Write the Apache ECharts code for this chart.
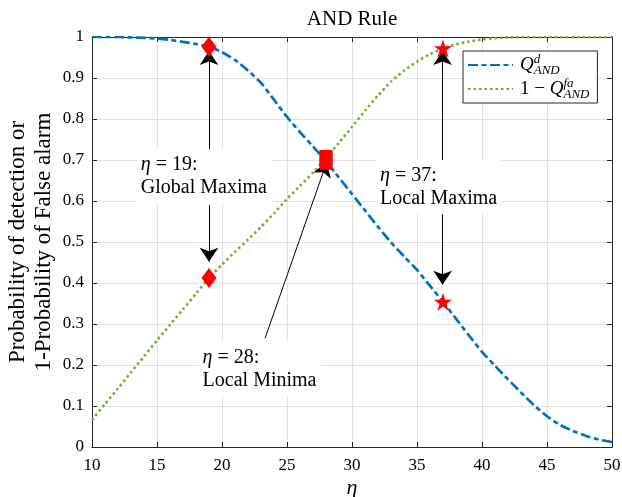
<!DOCTYPE html>
<html><head><meta charset="utf-8">
<script src="https://cdn.jsdelivr.net/npm/echarts@6/dist/echarts.min.js"></script>
<style>html,body{margin:0;padding:0;background:#fff}#c{width:622px;height:497px}</style>
</head><body><div id="c"></div>
<script>
// ---- data ----
const eta = [10,11,12,13,14,15,16,17,18,19,20,21,22,23,24,25,26,27,28,29,30,31,32,33,34,35,36,37,38,39,40,41,42,43,44,45,46,47,48,49,50];
const qdAnd = [1.000,1.000,1.000,0.999,0.998,0.996,0.993,0.988,0.983,0.976,0.963,0.944,0.918,0.888,0.847,0.805,0.768,0.733,0.697,0.657,0.617,0.577,0.537,0.499,0.465,0.432,0.393,0.354,0.313,0.272,0.232,0.198,0.165,0.133,0.102,0.075,0.054,0.039,0.027,0.018,0.012];
const oneMinusQfaAnd = [0.066,0.105,0.143,0.182,0.221,0.260,0.298,0.336,0.374,0.412,0.445,0.476,0.506,0.537,0.570,0.605,0.637,0.669,0.704,0.742,0.781,0.820,0.857,0.891,0.918,0.940,0.958,0.972,0.982,0.989,0.994,0.997,0.999,1.000,1.000,1.000,1.000,1.000,1.000,1.000,1.000];
const xTicks = [10,15,20,25,30,35,40,45,50];
const yTicks = [0,0.1,0.2,0.3,0.4,0.5,0.6,0.7,0.8,0.9,1];
const seriesNames = ['Qd_AND', '1-Qfa_AND'];
const globalMaxEta = 19, localMinEta = 28, localMaxEta = 37;
// annotation texts and their anchor (top-left) in data units
const annoTexts = ['{i|η} = 19:\nGlobal Maxima', '{i|η} = 28:\nLocal Minima', '{i|η} = 37:\nLocal Maxima'];
const annoAnchors = [[13.45, 0.726], [18.2, 0.256], [31.85, 0.700]];
// arrows: [from, to] in data units
const arrows = [
  [[19, 0.722], [19, 0.966]],
  [[19, 0.590], [19, 0.452]],
  [[23.31, 0.265], [28.05, 0.694]],
  [[36.97, 0.696], [36.97, 0.966]],
  [[36.97, 0.574], [36.97, 0.396]]
];

const FONT = '"Liberation Serif", "Times New Roman", serif';
const AX = '#262626';
const pairs = ys => eta.map((x, i) => [x, ys[i]]);
const at = (ys, e) => ys[eta.indexOf(e)];
const starPath = 'path://M50,0 L61.2,34.5 L97.6,34.5 L68.2,55.9 L79.4,90.5 L50,69.1 L20.6,90.5 L31.8,55.9 L2.4,34.5 L38.8,34.5 Z';

const chart = echarts.init(document.getElementById('c'));
const axisCommon = {
  type: 'value',
  axisLine: {show: true, onZero: false, lineStyle: {color: AX, width: 1}},
  axisTick: {show: true, inside: true, length: 5, lineStyle: {color: AX, width: 1}},
};
const option = {
  animation: false,
  backgroundColor: '#fff',
  title: {text: 'AND Rule', left: 352, top: 9, textAlign: 'center', padding: 0,
    textStyle: {fontFamily: FONT, fontWeight: 'normal', fontSize: 21, color: '#000'}},
  grid: {left: 92, right: 10, top: 37, bottom: 50, outerBoundsMode: 'none', containLabel: false},
  legend: {
    orient: 'vertical', left: 463, top: 51, padding: [2, 8, 2, 4], itemGap: 0,
    itemWidth: 45, itemHeight: 14, backgroundColor: '#fff', borderColor: AX, borderWidth: 1, borderRadius: 0,
    data: seriesNames,
    itemStyle: {color: 'rgba(0,0,0,0)', borderWidth: 0, opacity: 0},
    formatter: n => n === seriesNames[0] ? '{q|Q}{sup|d}{sub|AND}' : '{n|1 − }{q|Q}{sup|fa}{sub|AND}',
    textStyle: {fontFamily: FONT, color: '#000', fontSize: 17, padding: [0, 0, 0, 2],
      rich: {
        q: {fontFamily: FONT, fontStyle: 'italic', fontSize: 19, lineHeight: 24, color: '#000'},
        n: {fontFamily: FONT, fontSize: 19, lineHeight: 24, color: '#000'},
        sup: {fontFamily: FONT, fontStyle: 'italic', fontSize: 13, lineHeight: 12, verticalAlign: 'top', width: 0, color: '#000'},
        sub: {fontFamily: FONT, fontStyle: 'italic', fontSize: 13, lineHeight: 12, verticalAlign: 'bottom', color: '#000'}
      }}
  },
  xAxis: [
    Object.assign({}, axisCommon, {min: xTicks[0], max: xTicks[xTicks.length - 1], interval: xTicks[1] - xTicks[0],
      name: 'η', nameLocation: 'middle', nameGap: 30, nameMoveOverlap: false,
      nameTextStyle: {fontFamily: FONT, fontStyle: 'italic', fontSize: 22, color: '#000'},
      axisLabel: {fontFamily: FONT, fontSize: 17, color: '#000', margin: 10},
      splitLine: {show: true, lineStyle: {color: '#e2e2e2', width: 1}}}),
    Object.assign({}, axisCommon, {position: 'top', min: xTicks[0], max: xTicks[xTicks.length - 1], interval: xTicks[1] - xTicks[0],
      axisLabel: {show: false}, splitLine: {show: false}})
  ],
  yAxis: [
    Object.assign({}, axisCommon, {min: yTicks[0], max: yTicks[yTicks.length - 1], interval: 0.1,
      name: 'Probability of detection or\n1-Probability of False alarm', nameLocation: 'middle', nameGap: 35, nameRotate: 90,
      nameMoveOverlap: false,
      nameTextStyle: {fontFamily: FONT, fontSize: 23, lineHeight: 26, color: '#000'},
      axisLabel: {fontFamily: FONT, fontSize: 17, color: '#000', margin: 8},
      splitLine: {show: true, lineStyle: {color: '#e2e2e2', width: 1}}}),
    Object.assign({}, axisCommon, {position: 'right', min: yTicks[0], max: yTicks[yTicks.length - 1], interval: 0.1,
      axisLabel: {show: false}, splitLine: {show: false}})
  ],
  series: [
    {name: seriesNames[0], type: 'line', data: pairs(qdAnd), symbol: 'none', smooth: 0.2, z: 3,
      lineStyle: {color: '#0072BD', width: 2.7, type: [10, 3.5, 5, 3.5]}, itemStyle: {color: '#0072BD'}},
    {name: seriesNames[1], type: 'line', data: pairs(oneMinusQfaAnd), symbol: 'none', smooth: 0.2, z: 3,
      lineStyle: {color: '#77AC30', width: 2.6, type: [2.5, 3]}, itemStyle: {color: '#77AC30'}},
    {name: 'markers', type: 'scatter', z: 5, silent: true, itemStyle: {color: '#ff0000', opacity: 1},
      data: [
        {value: [globalMaxEta, at(qdAnd, globalMaxEta)], symbol: 'diamond', symbolSize: [15, 20]},
        {value: [globalMaxEta, at(oneMinusQfaAnd, globalMaxEta)], symbol: 'diamond', symbolSize: [15, 20]},
        {value: [localMinEta, at(qdAnd, localMinEta)], symbol: 'rect', symbolSize: [13, 17]},
        {value: [localMinEta, at(oneMinusQfaAnd, localMinEta)], symbol: 'rect', symbolSize: [13, 17]},
        {value: [localMaxEta, at(oneMinusQfaAnd, localMaxEta)], symbol: starPath, symbolSize: 18},
        {value: [localMaxEta, at(qdAnd, localMaxEta)], symbol: starPath, symbolSize: 18}
      ],
      markLine: {silent: true, symbol: ['none', 'arrow'], symbolSize: 14, animation: false,
        label: {show: false}, emphasis: {disabled: true},
        lineStyle: {color: '#000', width: 1, type: 'solid'},
        data: arrows.map(a => [{coord: a[0]}, {coord: a[1]}])}
    }
  ]
};
chart.setOption(option);

const graphics = annoTexts.map((t, i) => {
  const p = chart.convertToPixel({gridIndex: 0}, annoAnchors[i]);
  return {type: 'text', x: p[0], y: p[1], z: 10,
    style: {text: t, fill: '#000', font: '20px ' + FONT, lineHeight: 23,
      backgroundColor: '#fff', padding: [4, 4, 4, 4],
      rich: {i: {fontFamily: FONT, fontStyle: 'italic', fontSize: 20, lineHeight: 23}}}};
});
chart.setOption({graphic: graphics});
</script>
</body></html>
